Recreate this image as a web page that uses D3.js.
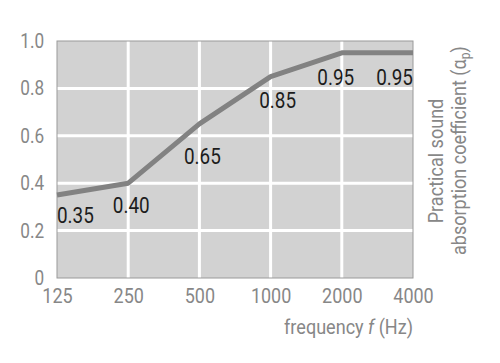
<!DOCTYPE html>
<html>
<head>
<meta charset="utf-8">
<script src="https://cdn.jsdelivr.net/npm/d3@7"></script>
<style>
  body { margin: 0; background: #fff; }
  svg text { font-family: Roboto, "Liberation Sans", sans-serif; }
</style>
</head>
<body>
<div id="chart"></div>
<script>
var frequencies = ['125', '250', '500', '1000', '2000', '4000'];
var coefficients = [0.35, 0.40, 0.65, 0.85, 0.95, 0.95];
var valueLabels = ['0.35', '0.40', '0.65', '0.85', '0.95', '0.95'];
var yTicks = [0, 0.2, 0.4, 0.6, 0.8, 1.0];
var yTickLabels = ['0', '0.2', '0.4', '0.6', '0.8', '1.0'];

var width = 500, height = 363;
var margin = {top: 41, right: 87, bottom: 85, left: 57};
var squeeze = 0.86;   // fake a condensed face
var grey = '#878787';

var svg = d3.select('#chart').append('svg')
  .attr('width', width)
  .attr('height', height);

var x = d3.scalePoint()
  .domain(frequencies)
  .range([margin.left, width - margin.right]);

var y = d3.scaleLinear()
  .domain([0, 1])
  .range([height - margin.bottom, margin.top]);

// plot background
svg.append('rect')
  .attr('x', margin.left)
  .attr('y', margin.top)
  .attr('width', width - margin.right - margin.left)
  .attr('height', height - margin.bottom - margin.top)
  .attr('fill', '#d2d2d2');

// grid
svg.append('g')
  .selectAll('line')
  .data(yTicks.slice(1, -1))
  .enter().append('line')
  .attr('x1', margin.left).attr('x2', width - margin.right)
  .attr('y1', d => y(d)).attr('y2', d => y(d))
  .attr('stroke', '#fff').attr('stroke-width', 3);

svg.append('g')
  .selectAll('line')
  .data(frequencies.slice(1, -1))
  .enter().append('line')
  .attr('x1', d => x(d)).attr('x2', d => x(d))
  .attr('y1', margin.top).attr('y2', height - margin.bottom)
  .attr('stroke', '#fff').attr('stroke-width', 3);

svg.append('rect')
  .attr('x', margin.left)
  .attr('y', margin.top)
  .attr('width', width - margin.right - margin.left)
  .attr('height', height - margin.bottom - margin.top)
  .attr('fill', 'none')
  .attr('stroke', '#9a9a9a')
  .attr('stroke-width', 1);

// axes
var yAxis = d3.axisLeft(y)
  .tickValues(yTicks)
  .tickFormat((d, i) => yTickLabels[i])
  .tickSize(0)
  .tickPadding(15);

svg.append('g')
  .attr('transform', 'translate(' + margin.left + ',0)')
  .call(yAxis)
  .call(g => g.select('.domain').remove())
  .selectAll('text')
  .attr('font-size', 20)
  .attr('fill', grey)
  .attr('transform', 'scale(' + squeeze + ',1)');

var xAxis = d3.axisBottom(x)
  .tickSize(0)
  .tickPadding(11);

svg.append('g')
  .attr('transform', 'translate(0,' + (height - margin.bottom) + ')')
  .call(xAxis)
  .call(g => g.select('.domain').remove())
  .selectAll('text')
  .attr('font-size', 20)
  .attr('fill', grey)
  .attr('transform', 'scale(0.9,1)');

// line
var line = d3.line()
  .x((d, i) => x(frequencies[i]))
  .y(d => y(d));

svg.append('path')
  .datum(coefficients)
  .attr('d', line)
  .attr('fill', 'none')
  .attr('stroke', '#828282')
  .attr('stroke-width', 5)
  .attr('stroke-linejoin', 'round');

// value labels (offset below each point)
var labelDy = [28, 30, 40, 31, 32, 32];
var labelDx = [0, 3, 3, 7, -6, 0];
svg.append('g')
  .selectAll('text')
  .data(coefficients)
  .enter().append('text')
  .attr('transform', (d, i) => 'translate(' + (x(frequencies[i]) + labelDx[i]) + ',' + (y(d) + labelDy[i]) + ') scale(' + squeeze + ',1)')
  .attr('text-anchor', (d, i) => i === 0 ? 'start' : (i === coefficients.length - 1 ? 'end' : 'middle'))
  .attr('font-size', 22)
  .attr('fill', '#1c1c1c')
  .text((d, i) => valueLabels[i]);

// axis titles
var xTitle = svg.append('text')
  .attr('transform', 'translate(' + (width - margin.right) + ',334) scale(' + squeeze + ',1)')
  .attr('text-anchor', 'end')
  .attr('font-size', 21)
  .attr('fill', grey);
xTitle.append('tspan').text('frequency ');
xTitle.append('tspan').attr('font-style', 'italic').text('f');
xTitle.append('tspan').text(' (Hz)');

var yTitle = svg.append('g')
  .attr('transform', 'translate(443,161) rotate(-90) scale(' + squeeze + ',1)');
yTitle.append('text')
  .attr('text-anchor', 'middle')
  .attr('font-size', 21)
  .attr('fill', grey)
  .text('Practical sound');
var t2 = yTitle.append('text')
  .attr('x', 12)
  .attr('y', 23)
  .attr('text-anchor', 'middle')
  .attr('font-size', 21)
  .attr('fill', grey);
t2.append('tspan').text('absorption coefficient (α');
t2.append('tspan').attr('font-size', 14).attr('dy', 4).text('p');
t2.append('tspan').attr('dy', -4).text(')');
</script>
</body>
</html>
